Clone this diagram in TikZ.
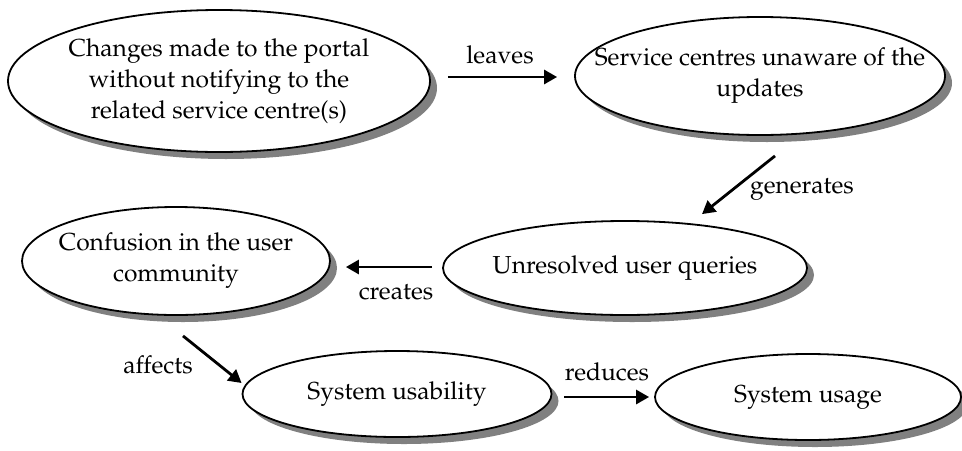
\documentclass[tikz,border=0pt]{standalone}
\usepackage[T1]{fontenc}
\usepackage{mathpazo}
\usetikzlibrary{shapes.geometric,shadows,arrows.meta,calc}

\begin{document}
\begin{tikzpicture}[
    x=0.5pt, y=-0.5pt,
    font=\fontsize{12.3}{15.5}\selectfont,
    bubble/.style={ellipse, draw, line width=0.9pt, fill=white,
        align=center, inner xsep=-25pt, inner ysep=-5pt,
        drop shadow={shadow xshift=3.5pt, shadow yshift=-3.5pt,
            fill=black!50, opacity=1}},
    link/.style={-{Triangle[length=6.5pt,width=7pt]}, line width=1.4pt},
 ]
    \useasboundingbox (0,0) rectangle (962,450);

    \node[bubble, minimum width=211pt, minimum height=71pt] at (219,81) (C1)
        {Changes made to the portal\\ without notifying to the\\ related service centre(s)};
    \node[bubble, minimum width=185pt, minimum height=59pt] at (760,76) (C2)
        {Service centres unaware of the\\ updates};
    \node[bubble, minimum width=154pt, minimum height=54pt] at (176,261) (C3)
        {Confusion in the user\\ community};
    \node[bubble, minimum width=182pt, minimum height=47pt] at (625,268) (C4)
        {Unresolved user queries};
    \node[bubble, minimum width=154.5pt, minimum height=43pt] at (397,394) (C5)
        {System usability};
    \node[bubble, minimum width=153pt, minimum height=43pt] at (808,397) (C6)
        {System usage};

    \draw[link] ($(C1.east)+(17,-4)$) -- ($(C2.west)+(-17,1)$);
    \node at (500,55) (Lleaves) {leaves};

    \draw[link] ($(C2.south)+(15,20)$) -- ($(C4.north)+(77,-6)$);
    \node at (802,190) (Lgenerates) {generates};

    \draw[link] ($(C4.west)+(-10,-1)$) -- ($(C3.east)+(15,6)$);
    \node at (396,292) (Lcreates) {creates};

    \draw[link] ($(C3.south)+(7,20)$) -- ($(C5.west)+(0,-11)$);
    \node at (158,365) (Laffects) {affects};

    \draw[link] ($(C5.east)+(12,3)$) -- ($(C6.west)+(-5,0)$);
    \node at (607,372) (Lreduces) {reduces};

\end{tikzpicture}
\end{document}
